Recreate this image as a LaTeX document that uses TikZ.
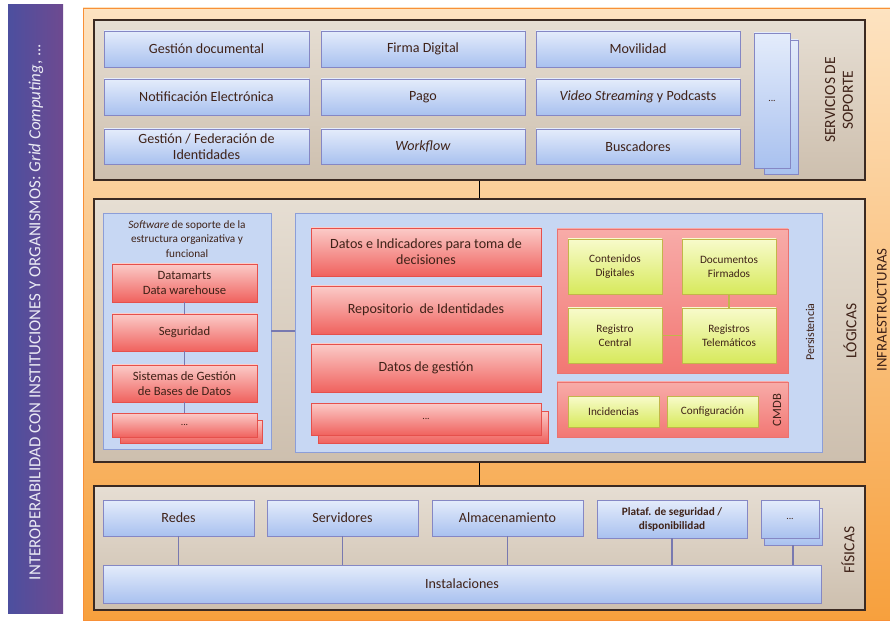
\documentclass[tikz,border=0pt]{standalone}
\usepackage{fontspec}
\setmainfont{Carlito}
\usetikzlibrary{shadows}
\definecolor{ink}{HTML}{3F2218}
\definecolor{bluetop}{HTML}{E4ECFB}
\definecolor{bluebot}{HTML}{A9C1EF}
\definecolor{blueline}{HTML}{8587C4}
\definecolor{redtop}{HTML}{FBCBC8}
\definecolor{redbot}{HTML}{F0625E}
\definecolor{redline}{HTML}{E5504C}
\definecolor{yeltop}{HTML}{F8FBCB}
\definecolor{yelbot}{HTML}{D7E95C}
\definecolor{yelline}{HTML}{C2B64A}
\definecolor{layertop}{HTML}{E6DED3}
\definecolor{layerbot}{HTML}{CDBFAE}
\definecolor{layerline}{HTML}{3B2A22}
\definecolor{paneblue}{HTML}{C7D7F3}
\definecolor{panebline}{HTML}{8C9ED8}
\definecolor{orangetop}{HTML}{FDE3C1}
\definecolor{orangebot}{HTML}{F7A03D}
\definecolor{purpleA}{HTML}{4C4F9F}
\definecolor{purpleB}{HTML}{6E4A90}
\tikzset{
  span/.style args={#1/#2/#3/#4}{at={({(#1+#3)/2},{(#2+#4)/2})},
    minimum width={(#3-#1)*0.025cm}, minimum height={(#4-#2)*0.025cm}},
  box/.style={inner sep=0pt, align=center, text=ink, font=\fontsize{10}{11.5}\selectfont,
    drop shadow={shadow xshift=0.8pt, shadow yshift=-0.8pt, opacity=0.25}},
  bluebox/.style={box, draw=blueline, top color=bluetop, bottom color=bluebot},
  redbox/.style={box, draw=redline, top color=redtop, bottom color=redbot, font=\fontsize{9}{10.5}\selectfont},
  yelbox/.style={box, draw=yelline, top color=yeltop, bottom color=yelbot, font=\fontsize{8}{10}\selectfont},
  layer/.style={inner sep=0pt, draw=layerline, line width=0.9pt, top color=layertop, bottom color=layerbot},
  bluepane/.style={inner sep=0pt, draw=panebline, fill=paneblue},
  redpane/.style={inner sep=0pt, draw=redline!80, top color=redtop!70!redbot, bottom color=redbot!80!redtop},
  sidelabel/.style={rotate=90, align=center, text=ink, font=\fontsize{11}{12.5}\selectfont},
  bline/.style={draw=blueline!90!black, line width=1.2pt},
  kline/.style={draw=black, line width=1.3pt},
  yline/.style={draw=yelline, line width=1.2pt},
  dots/.style={font=\fontsize{7}{8}\selectfont}
}
\begin{document}
\begin{tikzpicture}[x=0.025cm, y=-0.025cm]
  \useasboundingbox (0,0) rectangle (890,623);
  \fill[left color=purpleA, right color=purpleB] (8,5) rectangle (63,613);
  \node[rotate=90, text=white!88!purpleA, font=\fontsize{12}{14}\selectfont] (interop) at (36,312)
    {INTEROPERABILIDAD CON INSTITUCIONES Y ORGANISMOS: \textit{Grid Computing}, ...};
  \node[inner sep=0pt, draw=orangebot!90!red, top color=orangetop, bottom color=orangebot,
    span=83/8/890/620] (infra) {};
  \node[sidelabel, font=\fontsize{10.5}{12}\selectfont] (infralbl) at (882,310) {INFRAESTRUCTURAS};

  % servicios de soporte
  \node[layer, span=94/20/865/180] (serv) {};
  \node[bluebox, span=104/31/309/67] (gdoc) {Gestión documental};
  \node[bluebox, span=321/31/525/67] (firma) {Firma Digital};
  \node[bluebox, span=536/31/740/67] (movil) {Movilidad};
  \node[bluebox, span=104/79/309/115] (notif) {Notificación Electrónica};
  \node[bluebox, span=321/79/525/115] (pago) {Pago};
  \node[bluebox, span=536/79/740/115] (video) {\textit{Video Streaming} y Podcasts};
  \node[bluebox, span=104/129/309/164] (fedid) {Gestión / Federación de\\Identidades};
  \node[bluebox, span=321/129/525/164] (wflow) {\textit{Workflow}};
  \node[bluebox, span=536/129/740/164] (busc) {Buscadores};
  \node[bluebox, span=764/40/798/174] (smasb) {};
  \node[bluebox, span=754/33/790/168, dots] (smas) {...};
  \node[sidelabel, font=\fontsize{11}{12.5}\selectfont] (servlbl) at (839,100) {SERVICIOS DE\\SOPORTE};

  % logicas
  \node[layer, span=94/199/865/462] (logi) {};
  \node[bluepane, span=103/213/271/449] (swp) {};
  \node[align=center, text=ink, font=\fontsize{8}{10.5}\selectfont] (swlbl) at (187,239)
    {\textit{Software} de soporte de la\\estructura organizativa y\\funcional};
  \node[redbox, span=112/264/257/302] (dwh) {Datamarts\\Data warehouse};
  \node[redbox, span=112/314/257/351] (segu) {Seguridad};
  \node[redbox, span=112/365/257/402] (sgbd) {Sistemas de Gestión\\de Bases de Datos};
  \node[redbox, span=120/420/262/443] (lmasb) {};
  \node[redbox, span=112/413/257/437, dots] (lmas) {...};
  \draw[bline] (dwh) -- (segu) -- (sgbd) -- (lmas);

  \node[bluepane, span=295/213/822/452] (cpan) {};
  \draw[bline] (swp.east) -- (swp.east -| cpan.west);
  \node[redbox, span=311/228/541/276, font=\fontsize{10}{11.5}\selectfont] (dind) {Datos e Indicadores para toma de\\decisiones};
  \node[redbox, span=311/286/541/334, font=\fontsize{10}{11.5}\selectfont] (repid) {Repositorio~ de Identidades};
  \node[redbox, span=311/344/541/392, font=\fontsize{10}{11.5}\selectfont] (dges) {Datos de gestión};
  \node[redbox, span=318/411/548/443] (cmasb) {};
  \node[redbox, span=311/403/541/435, dots] (cmas) {...};

  \node[redpane, span=557/229/788/373] (pers) {};
  \node[yelbox, span=568/239/662/294] (cdig) {Contenidos\\Digitales};
  \node[yelbox, span=682/239/776/294] (dfir) {Documentos\\Firmados};
  \node[yelbox, span=568/308/662/363] (rcen) {Registro\\Central};
  \node[yelbox, span=682/308/776/363] (rtel) {Registros\\Telemáticos};
  \draw[yline] (rcen) -- (rtel);
  \draw[yline] (dfir) -- (rtel);
  \node[sidelabel, font=\fontsize{8.5}{10}\selectfont] (perslbl) at (810,332) {Persistencia};

  \node[redpane, span=557/382/788/437] (cmdb) {};
  \node[yelbox, span=568/396/659/427] (incid) {Incidencias};
  \node[yelbox, span=667/396/758/427] (config) {Configuración};
  \node[sidelabel, font=\fontsize{9}{10}\selectfont] (cmdblbl) at (777,410) {CMDB};
  \node[sidelabel] (logilbl) at (850,331) {LÓGICAS};

  % fisicas
  \node[layer, span=94/486/865/610] (fis) {};
  \node[bluebox, span=103/500/254/536] (redes) {Redes};
  \node[bluebox, span=267/500/418/536] (servi) {Servidores};
  \node[bluebox, span=432/500/583/536] (alm) {Almacenamiento};
  \node[bluebox, span=597/500/747/538, font=\fontsize{8}{10}\selectfont\bfseries] (plat) {Plataf. de seguridad /\\disponibilidad};
  \node[bluebox, span=764/508/822/545] (fmasb) {};
  \node[bluebox, span=761/500/819/538, dots] (fmas) {...};
  \node[bluebox, span=103/565/821/603] (inst) {Instalaciones};
  \foreach \n in {redes, servi, alm, plat, fmasb} {
    \draw[bline] (\n) -- (\n |- inst.north);
  }
  \node[sidelabel] (fislbl) at (848,550) {FÍSICAS};

  \draw[kline] (serv.south) -- (logi.north);
  \draw[kline] (logi.south) -- (fis.north);
\end{tikzpicture}
\end{document}
